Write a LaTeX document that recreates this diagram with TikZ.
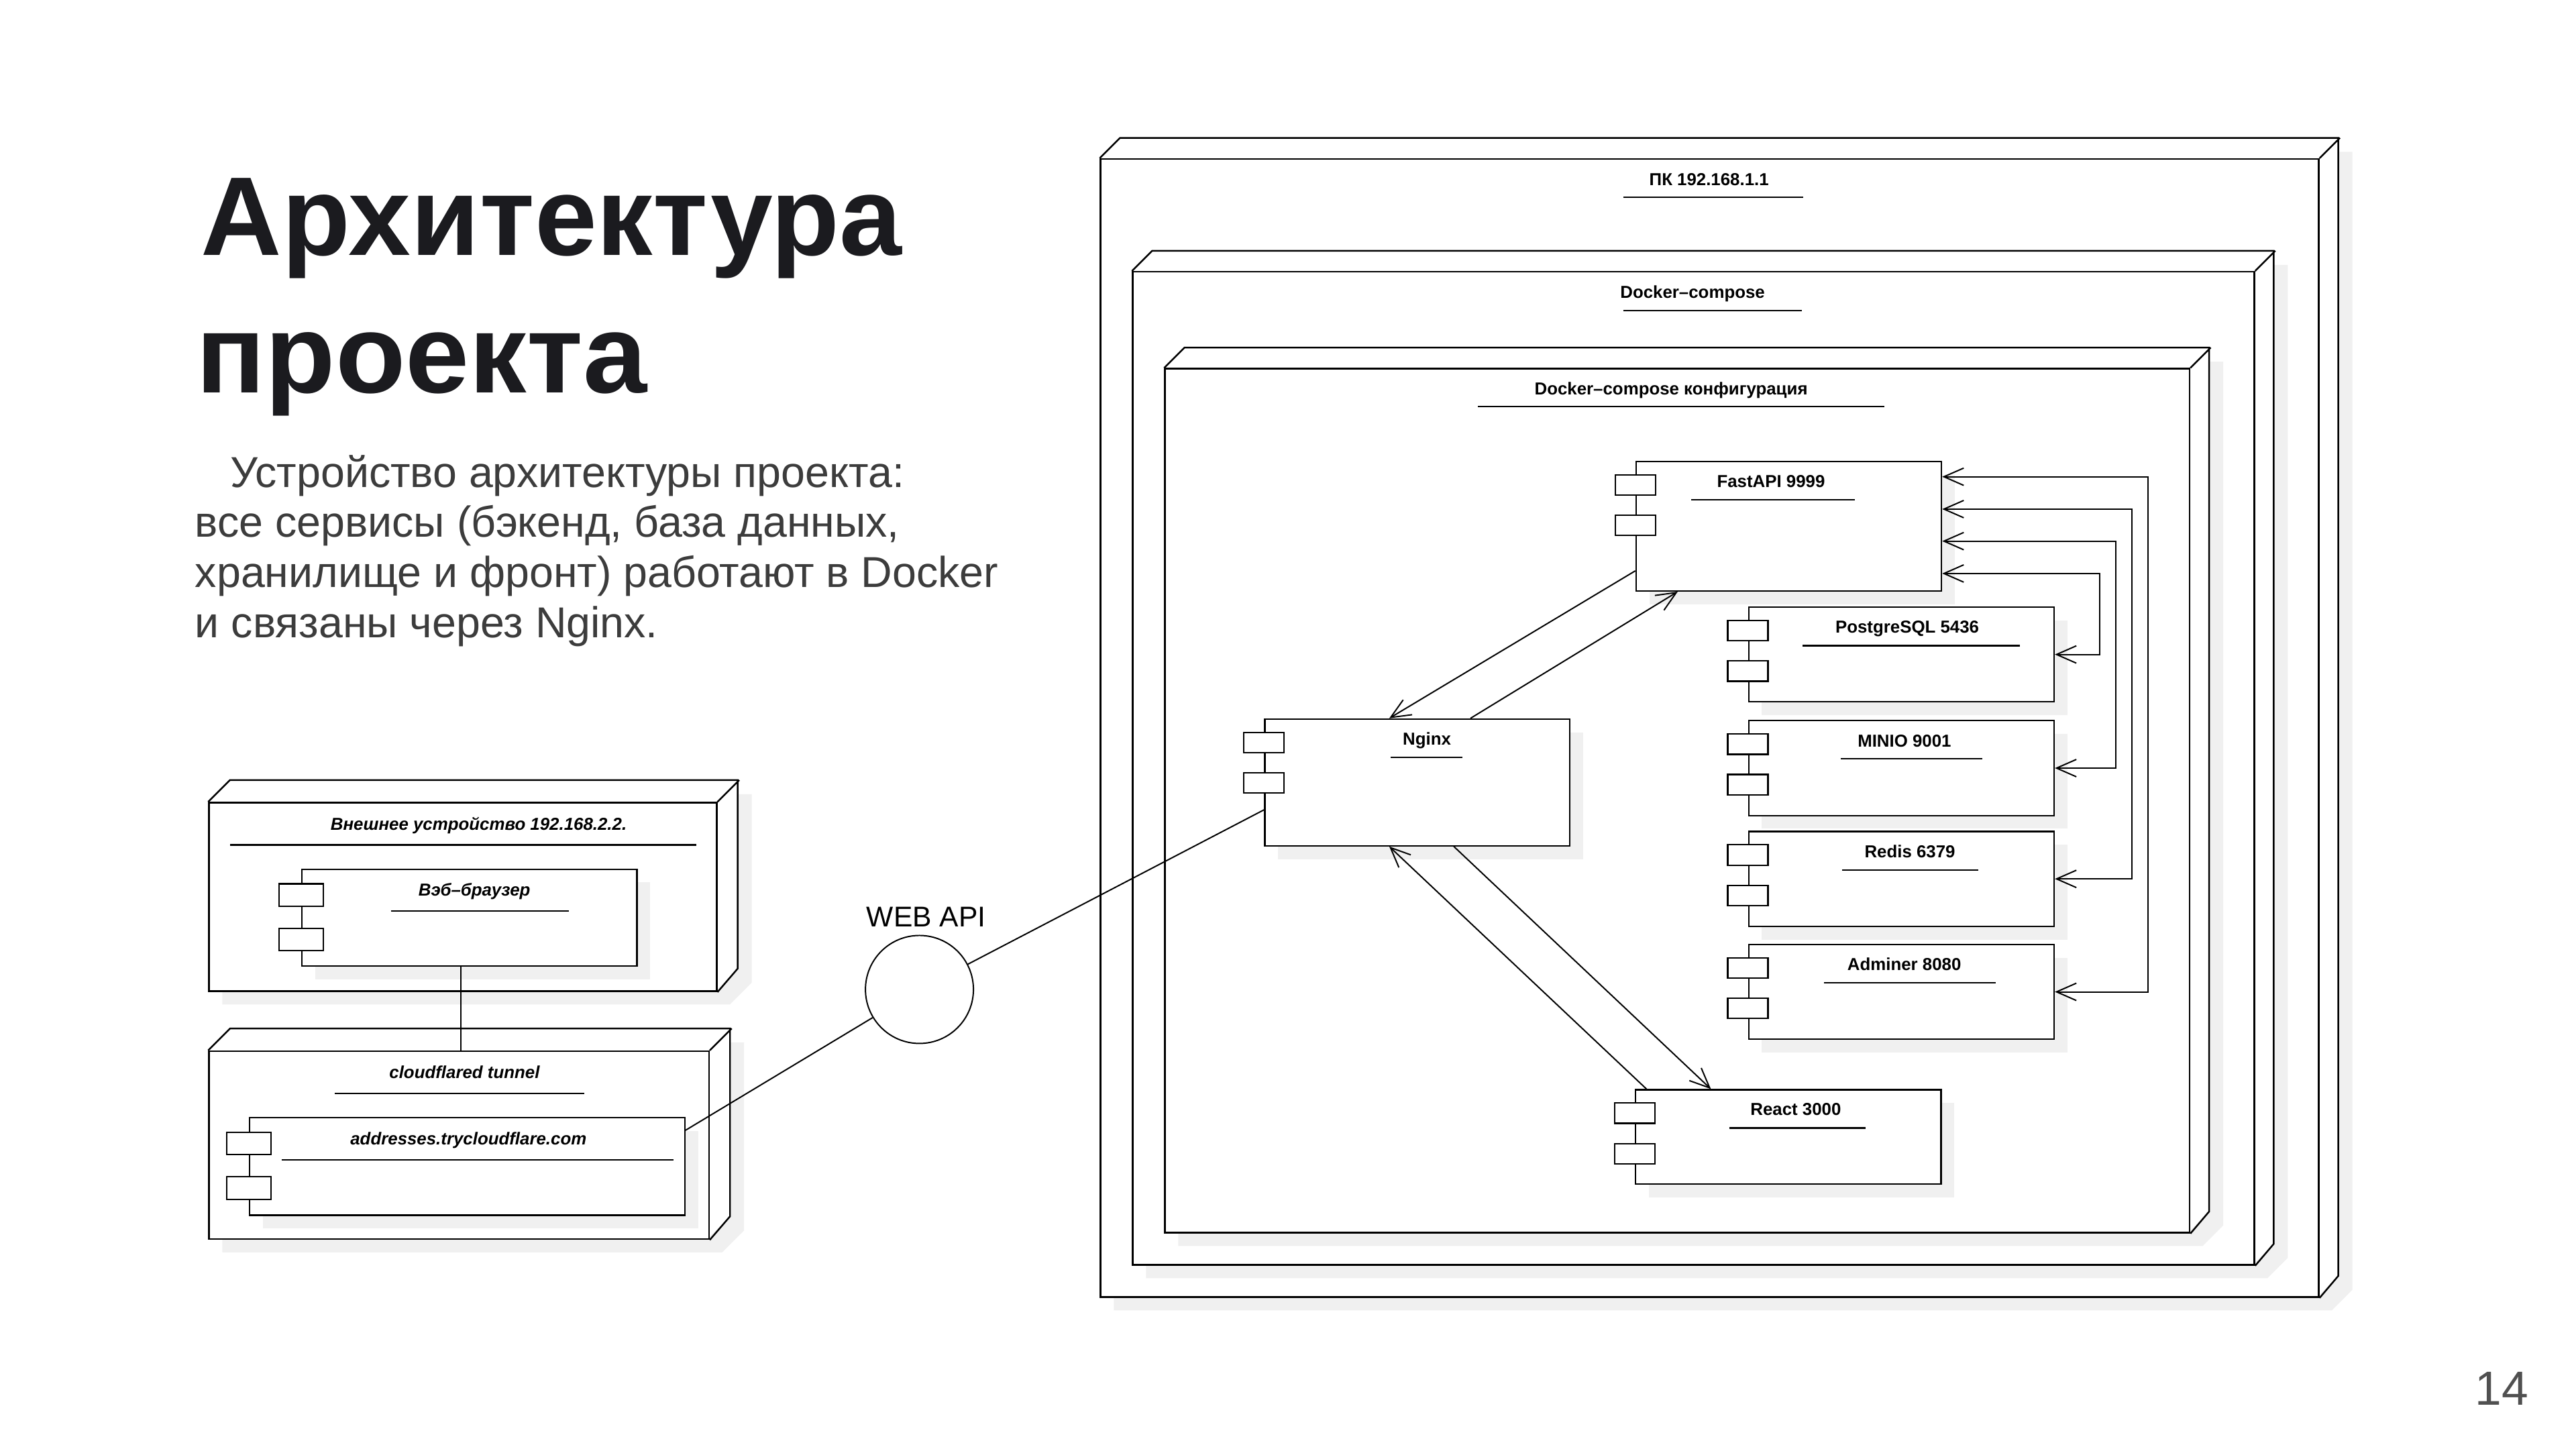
\documentclass[tikz,border=0pt]{standalone}
\usepackage{fontspec}
\setmainfont{Liberation Sans}
\usetikzlibrary{arrows.meta,calc}
\definecolor{shadowc}{RGB}{240,240,240}
\definecolor{titlec}{RGB}{27,27,31}
\definecolor{subc}{RGB}{60,60,60}
\definecolor{pagec}{RGB}{80,80,80}

% 3D deployment node: name, x, y (front top-left), width, height, depth
\newcommand\dnode[6]{%
  \fill[shadowc] (#2+8.5,#3+#5+8.5) -- (#2+8.5,#3+8.5) -- (#2+#6+8.5,#3-#6+8.5) -- (#2+#4+#6+8.5,#3-#6+8.5) -- (#2+#4+#6+8.5,#3+#5-#6+8.5) -- (#2+#4+8.5,#3+#5+8.5) -- cycle;
  \fill[white] (#2,#3+#5) -- (#2,#3) -- (#2+#6,#3-#6) -- (#2+#4+#6,#3-#6) -- (#2+#4+#6,#3+#5-#6) -- (#2+#4,#3+#5) -- cycle;
  \node[frontface, minimum width=#4pt, minimum height=#5pt] (#1) at (#2,#3) {};
  \draw[nodeline] (#1.north west) -- ++(#6,-#6) -- ++(#4,0) -- ++(0,#5) -- (#1.south east) (#1.north east) -- ++(#6,-#6);
}
% component: name, x, y, width, height, port scale
\newcommand\compbox[6]{%
  \fill[shadowc] (#2+8.5,#3+8.5) rectangle ++(#4,#5);
  \node[compnode, minimum width=#4pt, minimum height=#5pt] (#1) at (#2,#3) {};
  \draw[portbox] ($(#1.north west)+(-12.2*#6,8.5*#6)$) rectangle ++(24.4*#6,12.3*#6);
  \draw[portbox] ($(#1.north west)+(-12.2*#6,33*#6)$) rectangle ++(24.4*#6,12.3*#6);
}
% label: name, x, y(center), text, underline x1, x2, y
\newcommand\lab[7]{%
  \node[lbl, anchor=base] (#1) at (#2,#3+3.7) {#4};
  \draw[uline] (#5,#7) -- (#6,#7);
}

\begin{document}
\begin{tikzpicture}[x=1pt,y=-1pt,
  compnode/.style={draw, fill=white, line width=0.9pt, inner sep=0pt, anchor=north west, rectangle},
  frontface/.style={draw, line width=1pt, inner sep=0pt, anchor=north west, rectangle},
  nodeline/.style={line width=1pt, line join=miter},
  portbox/.style={draw, fill=white, line width=0.9pt},
  lbl/.style={font=\bfseries\fontsize{10.5}{12}\selectfont, inner sep=0pt},
  uline/.style={line width=0.9pt},
  conn/.style={line width=0.8pt},
  titletext/.style={font=\bfseries\fontsize{67.8}{80}\selectfont, text=titlec, inner sep=0pt, anchor=base west},
  subtext/.style={font=\fontsize{26.2}{30}\selectfont, text=subc, inner sep=0pt, anchor=base west},
  >={Straight Barb[length=12pt,width=10.5pt]}]
\useasboundingbox (0,0) rectangle (1560,877.5);
\fill[white] (0,0) rectangle (1560,877.5);

% title and text
\node[titletext] (t1) at (121.5,154.7) {Архитектура};
\node[titletext] (t2) at (118.5,237.9) {\scalebox{1.025}[1]{проекта}};
\node[subtext] (s1) at (139.5,295.1) {Устройство архитектуры проекта:};
\node[subtext] (s2) at (118,325.4) {все сервисы (бэкенд, база данных,};
\node[subtext] (s3) at (118,355.8) {хранилище и фронт) работают в Docker};
\node[subtext] (s4) at (118,386.1) {и связаны через Nginx.};
\node[anchor=base west, font=\fontsize{29}{32}\selectfont, text=pagec, inner sep=0pt] (pnum) at (1498.8,850.7) {14};

% nested nodes
\dnode{pc}{666}{95.8}{737.7}{689.2}{12.3}
\lab{lpc}{1035}{108.6}{ПК 192.168.1.1}{983}{1092}{119.4}
\dnode{dc}{685.5}{164.1}{679.2}{601.4}{12.2}
\lab{ldc}{1025}{176.7}{Docker–compose}{983}{1091}{188}
\dnode{cfg}{705}{222.8}{620.5}{523.2}{12.3}
\lab{lcfg}{1012}{235.2}{Docker–compose конфигурация}{895}{1141}{246.2}

% components
\compbox{fast}{990.3}{279}{185}{78.4}{1}
\lab{lfast}{1072.5}{291.4}{FastAPI 9999}{1024.3}{1123.1}{302.7}
\compbox{pg}{1058.5}{367.2}{185}{57.4}{1}
\lab{lpg}{1155}{379.7}{PostgreSQL 5436}{1091.7}{1223.3}{391}
\compbox{minio}{1058.5}{436}{185}{57.4}{1}
\lab{lminio}{1153.3}{448.5}{MINIO 9001}{1114.9}{1200.4}{459.4}
\compbox{redis}{1058.5}{503.1}{185}{57.4}{1}
\lab{lredis}{1156.6}{515.5}{Redis 6379}{1115.5}{1197.9}{526.9}
\compbox{adm}{1058.5}{571.5}{185}{57.4}{1}
\lab{ladm}{1153.2}{584}{Adminer 8080}{1104.7}{1208.5}{595.2}
\compbox{react}{990}{659.5}{185}{57.2}{1}
\lab{lreact}{1087.5}{671.7}{React 3000}{1047.1}{1129.8}{683.1}
\compbox{nginx}{765.5}{435}{184.6}{76.7}{1}
\lab{lnginx}{864.1}{447.3}{Nginx}{842.2}{885.8}{458.5}

% left side
\dnode{ext}{126.1}{485.6}{307.4}{114.2}{13.2}
\lab{lext}{289.9}{499.1}{\itshape Внешнее устройство 192.168.2.2.}{139.4}{421.5}{511.7}
\compbox{brow}{182.5}{525.9}{202.8}{58.6}{1.1}
\lab{lbrow}{287.3}{539}{\itshape Вэб–браузер}{236.8}{344.4}{551.8}
\dnode{cloud}{126.1}{636.1}{302.7}{113.8}{13.3}
\lab{lcloud}{281.3}{649.2}{\itshape cloudflared tunnel}{202.7}{353.7}{662.3}
\compbox{addr}{150.8}{676.4}{263.4}{59.1}{1.1}
\lab{laddr}{283.7}{689.5}{\itshape addresses.trycloudflare.com}{170.5}{408}{702.3}

% WEB API interface
\node[draw, circle, minimum size=65.4pt, inner sep=0pt, fill=white, line width=0.8pt] (api) at (556.8,599.2) {};
\node[font=\fontsize{17.3}{20}\selectfont, inner sep=0pt, anchor=base] (lapi) at (560.9,561.2) {WEB API};

% connectors
\coordinate (bc) at ($(brow.south west)+(96.5,0)$);
\draw[conn] (bc) -- (bc |- cloud.north);
\draw[conn] ([yshift=-8.1pt]addr.north east) -- (api);
\draw[conn] (api) -- ([yshift=22.2pt]nginx.south west);

\draw[conn,<->] ([yshift=-9.7pt]fast.north east) -| ($(adm.east)+(56.4,0)$) -- (adm.east);
\draw[conn,<->] ([yshift=-29.3pt]fast.north east) -| ($(redis.east)+(46.6,0)$) -- (redis.east);
\draw[conn,<->] ([yshift=-48.7pt]fast.north east) -| ($(minio.east)+(37,0)$) -- (minio.east);
\draw[conn,<->] ([yshift=-68.3pt]fast.north east) -| ($(pg.east)+(27.2,0)$) -- (pg.east);

\draw[conn,->] ([yshift=12.6pt]fast.south west) -- ([xshift=75.8pt]nginx.north west);
\draw[conn,->] ([xshift=125pt]nginx.north west) -- ([xshift=25.7pt]fast.south west);
\draw[conn,->] ([xshift=114.9pt]nginx.south west) -- ([xshift=46.1pt]react.north west);
\draw[conn,->] ([xshift=7.1pt]react.north west) -- ([xshift=75.8pt]nginx.south west);
\end{tikzpicture}
\end{document}
